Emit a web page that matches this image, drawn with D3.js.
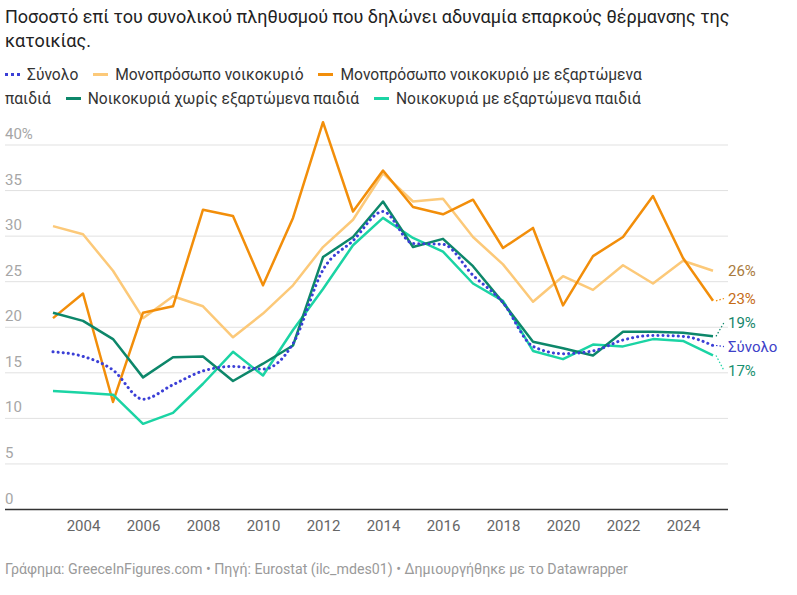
<!DOCTYPE html>
<html>
<head>
<meta charset="utf-8">
<script src="https://cdn.jsdelivr.net/npm/d3@7"></script>
<style>
  body { margin: 0; background: #fff; font-family: Roboto, "Noto Sans", sans-serif; }
  #wrap { position: relative; width: 797px; height: 595px; }
  #title { position: absolute; left: 5px; top: 5px; width: 770px; font-size: 18px; line-height: 24px; color: #222; }
  #legend { position: absolute; left: 5px; top: 63px; width: 670px; font-size: 15.6px; line-height: 24px; color: #333; }
  #legend .item { margin-right: 11px; }
  #legend .sw { display: inline-block; width: 15px; height: 3px; vertical-align: middle; margin-right: 7px; position: relative; top: -1px; }
  #legend .dot { height: 0; border-top: 3px dotted #3b3fd6; background: none; }
  svg { position: absolute; left: 0; top: 0; }
</style>
</head>
<body>
<div id="wrap">
  <div id="chart"></div>
  <div id="title"></div>
  <div id="legend"></div>
</div>
<script>
var titleText = "Ποσοστό επί του συνολικού πληθυσμού που δηλώνει αδυναμία επαρκούς θέρμανσης της κατοικίας.";
var footerText = "Γράφημα: GreeceInFigures.com • Πηγή: Eurostat (ilc_mdes01) • Δημιουργήθηκε με το Datawrapper";

var years = [2003, 2004, 2005, 2006, 2007, 2008, 2009, 2010, 2011, 2012, 2013, 2014,
  2015, 2016, 2017, 2018, 2019, 2020, 2021, 2022, 2023, 2024, 2025];

var total = [17.3, 16.8, 15.3, 12.1, 13.7, 15.2, 15.7, 15.4, 18.2, 26.3, 29.5, 32.7,
  29.2, 29.1, 25.7, 22.7, 17.9, 17.1, 17.4, 18.6, 19.1, 19.0, 18.0];
var single = [31.1, 30.2, 26.2, 21.0, 23.4, 22.3, 18.9, 21.5, 24.6, 28.8, 31.8, 36.9,
  33.8, 34.1, 29.9, 26.9, 22.8, 25.6, 24.1, 26.8, 24.8, 27.3, 26.2];
var singleKids = [21.0, 23.7, 11.8, 21.6, 22.3, 32.9, 32.2, 24.6, 32.0, 42.5, 32.7, 37.2,
  33.2, 32.4, 34.0, 28.7, 30.9, 22.4, 27.8, 29.9, 34.4, 27.6, 22.9];
var noKids = [21.6, 20.7, 18.7, 14.5, 16.7, 16.8, 14.1, 16.0, 18.0, 27.7, 29.9, 33.8,
  28.8, 29.7, 26.7, 22.7, 18.4, 17.7, 16.9, 19.5, 19.5, 19.4, 19.0];
var withKids = [13.0, 12.8, 12.6, 9.4, 10.6, 13.8, 17.3, 14.7, 19.7, 24.2, 29.0, 32.0,
  29.8, 28.3, 24.8, 22.9, 17.4, 16.5, 18.1, 17.9, 18.7, 18.5, 16.9];

var yTicks = [0, 5, 10, 15, 20, 25, 30, 35, 40];
var xTicks = [2004, 2006, 2008, 2010, 2012, 2014, 2016, 2018, 2020, 2022, 2024];

var series = [
  { name: "Μονοπρόσωπο νοικοκυριό", values: single, color: "#fcc979", label: "26%", labelColor: "#a97a3c", width: 2.5 },
  { name: "Μονοπρόσωπο νοικοκυριό με εξαρτώμενα παιδιά", values: singleKids, color: "#f28e0a", label: "23%", labelColor: "#c66c17", width: 2.5 },
  { name: "Νοικοκυριά με εξαρτώμενα παιδιά", values: withKids, color: "#1bd4a4", label: "17%", labelColor: "#18906f", width: 2.5 },
  { name: "Νοικοκυριά χωρίς εξαρτώμενα παιδιά", values: noKids, color: "#0d876a", label: "19%", labelColor: "#17866b", width: 2.5 },
  { name: "Σύνολο", values: total, color: "#3b3fd6", label: "Σύνολο", labelColor: "#3d41c8", width: 2.6, dotted: true }
];
var legendOrder = ["Σύνολο", "Μονοπρόσωπο νοικοκυριό", "Μονοπρόσωπο νοικοκυριό με εξαρτώμενα παιδιά",
  "Νοικοκυριά χωρίς εξαρτώμενα παιδιά", "Νοικοκυριά με εξαρτώμενα παιδιά"];

d3.select("#title").text(titleText);

var legend = d3.select("#legend");
legendOrder.forEach(function(n) {
  var s = series.find(function(d) { return d.name === n; });
  var item = legend.append("span").attr("class", "item");
  var sw = item.append("span").attr("class", s.dotted ? "sw dot" : "sw");
  if (!s.dotted) sw.style("background", s.color);
  item.append("span").text(s.name);
  legend.append("span").text(" ");
});

var width = 797, height = 595;
var plotLeft = 5, plotRight = 728, plotTop = 145, plotBottom = 509.5;

var x = d3.scaleLinear().domain([2003, 2025]).range([53, 713]);
var y = d3.scaleLinear().domain([0, 40]).range([plotBottom, plotTop]);

var svg = d3.select("#chart").append("svg")
  .attr("width", width)
  .attr("height", height)
  .style("font-family", "Roboto, sans-serif");

// grid
svg.append("g").selectAll("line").data(yTicks.filter(function(d) { return d > 0; }))
  .enter().append("line")
    .attr("x1", plotLeft).attr("x2", plotRight)
    .attr("y1", function(d) { return y(d); })
    .attr("y2", function(d) { return y(d); })
    .attr("stroke", "#e1e1e1")
    .attr("stroke-width", 1);

svg.append("g").selectAll("text").data(yTicks)
  .enter().append("text")
    .attr("x", plotLeft)
    .attr("y", function(d) { return y(d) - 6; })
    .attr("fill", "#a6a6a6")
    .style("font-size", "15px")
    .text(function(d) { return d === 40 ? d + "%" : d; });

// x axis
var xAxis = d3.axisBottom(x).tickValues(xTicks).tickSize(0).tickPadding(11).tickFormat(d3.format("d"));
var gx = svg.append("g").attr("transform", "translate(0," + plotBottom + ")").call(xAxis);
gx.select(".domain").remove();
gx.selectAll("text").attr("fill", "#666").style("font-size", "15px").style("font-family", "Roboto, sans-serif");
svg.append("line")
  .attr("x1", plotLeft).attr("x2", plotRight)
  .attr("y1", plotBottom).attr("y2", plotBottom)
  .attr("stroke", "#333").attr("stroke-width", 1.5);

// lines
series.forEach(function(s) {
  var line = d3.line()
    .x(function(d, i) { return x(years[i]); })
    .y(function(d) { return y(d); })
    .curve(s.dotted ? d3.curveMonotoneX : d3.curveLinear);
  var p = svg.append("path")
    .datum(s.values)
    .attr("d", line)
    .attr("fill", "none")
    .attr("stroke", s.color)
    .attr("stroke-width", s.width)
    .attr("stroke-linejoin", "round");
  if (s.dotted) {
    p.attr("stroke-dasharray", "0.1 5").attr("stroke-linecap", "round").attr("stroke-width", 3);
  }
});

// end labels with simple collision relaxation
var lastX = x(years[years.length - 1]);
var labels = series.map(function(s) {
  var v = s.values[s.values.length - 1];
  return { s: s, y0: y(v), y: y(v) };
}).sort(function(a, b) { return a.y0 - b.y0; });
var gap = 24;
for (var k = 0; k < 200; k++) {
  for (var i = 1; i < labels.length; i++) {
    var d = labels[i].y - labels[i - 1].y;
    if (d < gap) {
      var push = (gap - d) / 2;
      labels[i].y += push;
      labels[i - 1].y -= push;
    }
  }
}
var lg = svg.append("g");
labels.forEach(function(l) {
  if (Math.abs(l.y - l.y0) > 1 || l.s.dotted || l.s.label === "23%") {
    lg.append("line")
      .attr("x1", lastX + 3).attr("y1", l.y0)
      .attr("x2", plotRight - 4).attr("y2", l.y)
      .attr("stroke", l.s.color)
      .attr("stroke-width", 1.2)
      .attr("stroke-dasharray", "1.5 2");
  }
  lg.append("text")
    .attr("x", plotRight)
    .attr("y", l.y)
    .attr("dy", "0.35em")
    .attr("fill", l.s.labelColor)
    .style("font-size", "15px")
    .text(l.s.label);
});

svg.append("text")
  .attr("x", plotLeft)
  .attr("y", 574)
  .attr("fill", "#9a9a9a")
  .style("font-size", "14.2px")
  .text(footerText);
</script>
</body>
</html>
